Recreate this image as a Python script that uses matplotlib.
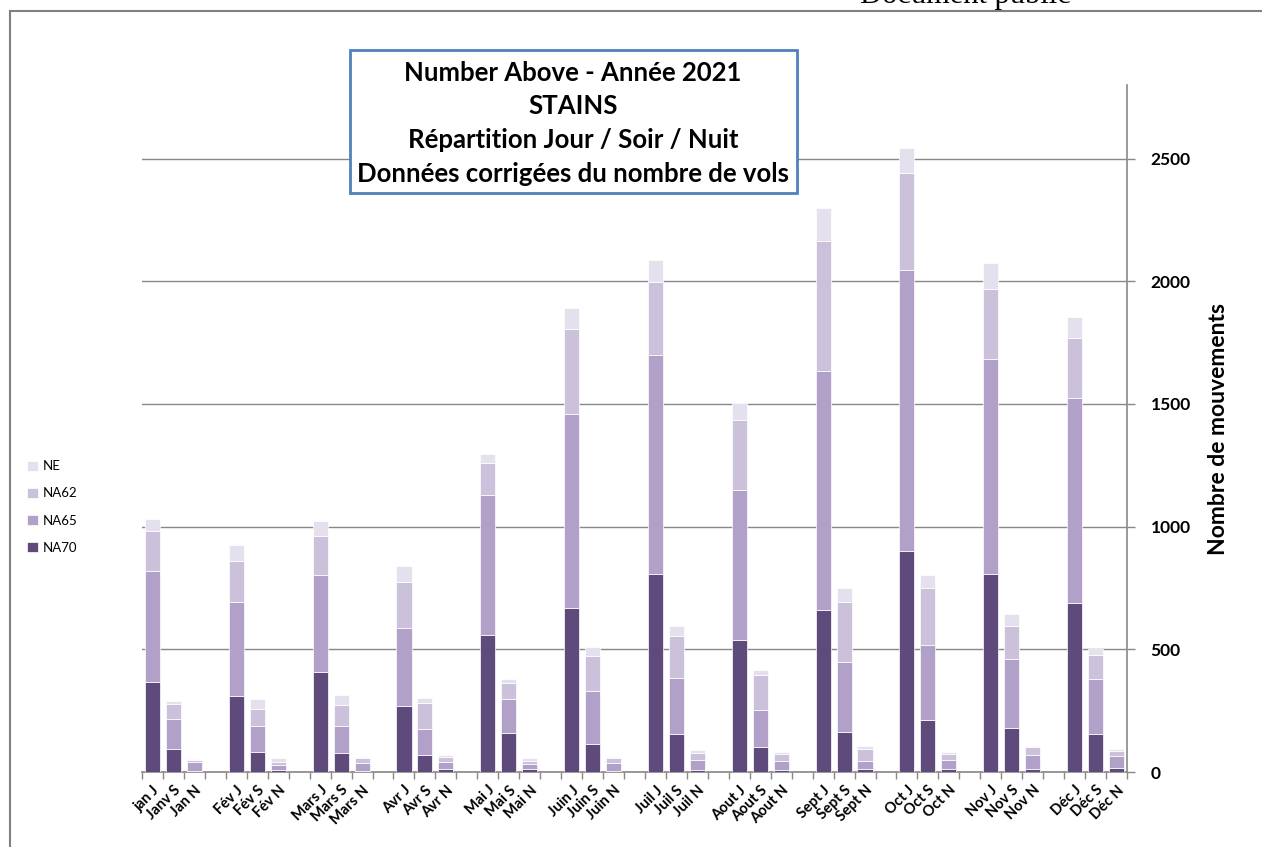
import numpy as np
import matplotlib.pyplot as plt
from matplotlib.patches import Rectangle
from matplotlib.lines import Line2D

labels = ["jan J", "Janv S", "Jan N", "Fév J", "Fév S", "Fév N",
          "Mars J", "Mars S", "Mars N", "Avr J", "Avr S", "Avr N",
          "Mai J", "Mai S", "Mai N", "Juin J", "Juin S", "Juin N",
          "Juil J", "Juil S", "Juil N", "Aout J", "Aout S", "Aout N",
          "Sept J", "Sept S", "Sept N", "Oct J", "Oct S", "Oct N",
          "Nov J", "Nov S", "Nov N", "Déc J", "Déc S", "Déc N"]

na70 = [367, 92, 3, 311, 80, 8, 408, 77, 3, 271, 68, 12,
        558, 159, 12, 667, 114, 3, 806, 156, 8, 537, 100, 8,
        659, 162, 14, 899, 213, 11, 806, 179, 11, 688, 153, 18]
na65 = [452, 126, 39, 381, 107, 20, 395, 110, 35, 315, 108, 29,
        573, 139, 21, 794, 216, 35, 895, 228, 41, 611, 152, 38,
        977, 286, 32, 1148, 304, 38, 879, 282, 58, 838, 228, 48]
na62 = [163, 59, 8, 170, 69, 14, 159, 87, 18, 187, 106, 19,
        127, 66, 13, 346, 142, 19, 297, 172, 28, 285, 144, 27,
        529, 245, 46, 395, 232, 24, 285, 133, 31, 244, 94, 19]
ne = [48, 12, 3, 65, 42, 14, 60, 39, 4, 67, 19, 9,
      40, 14, 11, 86, 39, 4, 90, 40, 11, 69, 19, 7,
      135, 56, 14, 102, 54, 7, 106, 49, 4, 86, 28, 7]

series = [("NA70", na70, "#5f4b7b"),
          ("NA65", na65, "#b1a1c8"),
          ("NA62", na62, "#cbc1db"),
          ("NE", ne, "#e5e0ed")]

# 3 bars per month then an empty slot
x = np.array([4 * (i // 3) + i % 3 for i in range(len(labels))])

plt.rcParams['font.family'] = ['Lato', 'DejaVu Sans']

fig = plt.figure(figsize=(12.62, 8.47), dpi=100)
ax = fig.add_axes([142 / 1262, 1 - 772 / 847, 985 / 1262, 687 / 847])

bottom = np.zeros(len(labels))
handles = []
for name, vals, col in series:
    vals = np.array(vals, dtype=float)
    b = ax.bar(x, vals, width=0.72, bottom=bottom, color=col,
               edgecolor='white', linewidth=0.5, label=name, zorder=3)
    handles.append(b)
    bottom += vals

ax.set_xlim(-0.5, x.max() + 0.5)
ax.set_ylim(0, 2800)

ax.yaxis.tick_right()
ax.yaxis.set_label_position('right')
ax.set_yticks([0, 500, 1000, 1500, 2000, 2500])
ax.tick_params(axis='y', which='major', length=6, width=1, color='#888888',
               labelsize=12.5, pad=11)
for t in ax.get_yticklabels():
    t.set_fontweight('bold')
ax.set_ylabel("Nombre de mouvements", fontsize=16.5, fontweight='bold',
              labelpad=12)

ax.set_xticks(x)
ax.set_xticklabels(labels, rotation=45, ha='right', rotation_mode='anchor',
                   fontsize=10.5, fontweight='bold')
ax.tick_params(axis='x', which='major', length=0, pad=8)
ax.set_xticks(np.arange(-0.5, x.max() + 1, 1), minor=True)
ax.tick_params(axis='x', which='minor', length=5, width=1, color='#888888')

ax.yaxis.grid(True, color='#888888', linewidth=1)
ax.set_axisbelow(True)
for s in ['top', 'left']:
    ax.spines[s].set_visible(False)
ax.spines['right'].set_color('#888888')
ax.spines['bottom'].set_color('#888888')
ax.spines['right'].set_linewidth(1.2)
ax.spines['bottom'].set_linewidth(1.2)

fig.legend(handles[::-1], [s[0] for s in series][::-1], loc='center left',
           bbox_to_anchor=(0.012, 1 - 507 / 847), frameon=False, fontsize=9.5,
           handlelength=0.8, handleheight=0.8, handletextpad=0.4,
           labelspacing=1.15)

# title box
fig.patches.append(Rectangle((350 / 1262, 1 - 193 / 847), 447 / 1262, 143 / 847,
                             transform=fig.transFigure, fill=True,
                             facecolor='white', edgecolor='#4f81bd',
                             linewidth=2, zorder=5))
title_lines = ["Number Above - Année 2021", "STAINS",
               "Répartition Jour / Soir / Nuit",
               "Données corrigées du nombre de vols"]
for i, line in enumerate(title_lines):
    fig.text(573 / 1262, 1 - (73 + 33.5 * i) / 847, line, ha='center',
             va='center', fontsize=18.5, fontweight='bold', zorder=6)

# page frame
fig.add_artist(Line2D([10 / 1262, 1], [1 - 11 / 847, 1 - 11 / 847],
                      transform=fig.transFigure, color='#808080', lw=1.5))
fig.add_artist(Line2D([10 / 1262, 10 / 1262], [0, 1 - 11 / 847],
                      transform=fig.transFigure, color='#808080', lw=1.5))
fig.text(860 / 1262, 1 - 3 / 847, "Document public", fontsize=22,
         family='Liberation Serif', va='baseline', ha='left')

fig.savefig("out.png", dpi=100)
